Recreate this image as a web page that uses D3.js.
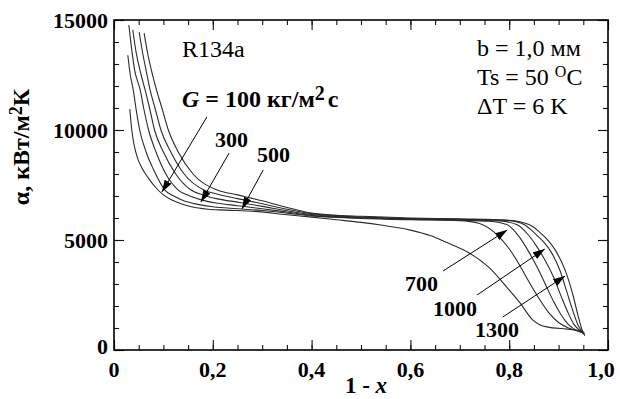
<!DOCTYPE html>
<html>
<head>
<meta charset="utf-8">
<script src="https://cdn.jsdelivr.net/npm/d3@7"></script>
<style>
  body { margin: 0; background: #fff; }
  svg { display: block; }
  text { font-family: "Liberation Serif", "Times New Roman", serif; fill: #000; }
</style>
</head>
<body>
<svg id="chart" width="620" height="399"></svg>
<script>
// Heat transfer coefficient α (кВт/м²К) vs. 1 - x for R134a, one series per mass flux G
const fluxes = [100, 300, 500, 700, 1000, 1300];

const xG100 = [0.032, 0.036, 0.040, 0.048, 0.056, 0.070, 0.083, 0.100, 0.117, 0.137, 0.157, 0.190, 0.225, 0.285, 0.350, 0.400, 0.450, 0.500, 0.540, 0.600, 0.640, 0.670, 0.720, 0.760, 0.795, 0.822, 0.848, 0.862, 0.876, 0.917, 0.948];
const aG100 = [10950, 10000, 9400, 8700, 8300, 7800, 7420, 7050, 6820, 6640, 6510, 6400, 6360, 6300, 6150, 6040, 5920, 5800, 5680, 5450, 5200, 4920, 4400, 3730, 2860, 2140, 1360, 1150, 1050, 950, 880];

const xG300 = [0.028, 0.033, 0.039, 0.045, 0.052, 0.065, 0.080, 0.103, 0.120, 0.140, 0.170, 0.200, 0.250, 0.300, 0.350, 0.400, 0.500, 0.600, 0.700, 0.740, 0.777, 0.800, 0.820, 0.840, 0.860, 0.880, 0.900, 0.920, 0.940, 0.952];
const aG300 = [13400, 12500, 11820, 10900, 10000, 9000, 8200, 7270, 7010, 6800, 6620, 6510, 6420, 6340, 6220, 6090, 5980, 5920, 5880, 5750, 5200, 4600, 3900, 3100, 2350, 1700, 1250, 1000, 850, 800];

const xG500 = [0.030, 0.035, 0.042, 0.053, 0.060, 0.070, 0.085, 0.105, 0.130, 0.150, 0.180, 0.210, 0.250, 0.300, 0.350, 0.400, 0.500, 0.600, 0.700, 0.760, 0.795, 0.820, 0.840, 0.858, 0.875, 0.890, 0.905, 0.920, 0.940, 0.952];
const aG500 = [14770, 13800, 12700, 11820, 11000, 10000, 9000, 8000, 7270, 7030, 6800, 6670, 6560, 6420, 6270, 6120, 6000, 5940, 5900, 5850, 5700, 5150, 4450, 3700, 2900, 2200, 1600, 1150, 850, 750];

const xG700 = [0.038, 0.045, 0.055, 0.063, 0.072, 0.082, 0.100, 0.125, 0.156, 0.180, 0.210, 0.250, 0.300, 0.350, 0.400, 0.500, 0.600, 0.700, 0.780, 0.815, 0.838, 0.856, 0.872, 0.890, 0.905, 0.918, 0.930, 0.945, 0.953];
const aG700 = [14550, 13500, 12500, 11820, 11000, 10000, 9000, 8000, 7270, 7050, 6870, 6720, 6530, 6330, 6160, 6020, 5960, 5920, 5870, 5700, 5250, 4700, 4100, 3300, 2450, 1750, 1200, 850, 700];

const xG1000 = [0.051, 0.058, 0.066, 0.073, 0.083, 0.095, 0.115, 0.142, 0.182, 0.210, 0.250, 0.300, 0.350, 0.400, 0.500, 0.600, 0.700, 0.800, 0.830, 0.852, 0.870, 0.885, 0.903, 0.918, 0.930, 0.940, 0.951];
const aG1000 = [14450, 13500, 12600, 11820, 11000, 10000, 9000, 8000, 7270, 7080, 6880, 6650, 6400, 6190, 6040, 5980, 5940, 5880, 5700, 5300, 4900, 4450, 3600, 2550, 1700, 1100, 750];

const xG1300 = [0.061, 0.068, 0.077, 0.086, 0.097, 0.110, 0.130, 0.160, 0.209, 0.250, 0.300, 0.350, 0.400, 0.450, 0.500, 0.600, 0.700, 0.800, 0.840, 0.862, 0.880, 0.893, 0.913, 0.929, 0.939, 0.947, 0.953];
const aG1300 = [14400, 13500, 12600, 11820, 11000, 10000, 9000, 8000, 7270, 7050, 6780, 6480, 6220, 6120, 6080, 6000, 5960, 5900, 5700, 5350, 4950, 4550, 3640, 2500, 1600, 950, 650];

const seriesX = [xG100, xG300, xG500, xG700, xG1000, xG1300];
const seriesA = [aG100, aG300, aG500, aG700, aG1000, aG1300];

// Axis ticks
const xTicks = [0, 0.2, 0.4, 0.6, 0.8, 1.0];
const xTickLabels = ["0", "0,2", "0,4", "0,6", "0,8", "1,0"];
const yTicks = [0, 5000, 10000, 15000];
const yTickLabels = ["0", "5000", "10000", "15000"];

// Flux annotations: label text, arrow tail and head in data units (1 - x, α)
const arrowLabels = ["100", "300", "500", "700", "1000", "1300"];
const arrowTail = [[0.188, 10590], [0.233, 8950], [0.302, 8180], [0.666, 3590], [0.735, 2500], [0.787, 1500]];
const arrowHead = [[0.097, 7180], [0.176, 6730], [0.259, 6410], [0.796, 5450], [0.872, 4590], [0.913, 3360]];

const svg = d3.select("#chart");
const plotL = 114, plotR = 608, plotT = 20, plotB = 350;

const x = d3.scaleLinear().domain([0, 1]).range([plotL, plotR]);
const y = d3.scaleLinear().domain([0, 15000]).range([plotB, plotT]);

const majorLen = 10, minorLen = 5;
const xMinor = d3.range(0, 1.0001, 0.05);
const yMinor = d3.range(0, 15001, 1000);

function styleAxis(g) {
  g.select(".domain").remove();
  g.selectAll("line").attr("stroke", "#111").attr("stroke-width", 1.1);
  g.selectAll("text").remove();
}

// inward ticks on all four sides
[
  [() => d3.axisBottom(x), `translate(0,${plotB})`, xTicks, xMinor],
  [() => d3.axisTop(x), `translate(0,${plotT})`, xTicks, xMinor],
  [() => d3.axisLeft(y), `translate(${plotL},0)`, yTicks, yMinor],
  [() => d3.axisRight(y), `translate(${plotR},0)`, yTicks, yMinor],
].forEach(([mk, tr, major, minor]) => {
  svg.append("g").attr("transform", tr).call(mk().tickValues(minor).tickSize(-minorLen)).call(styleAxis);
  svg.append("g").attr("transform", tr).call(mk().tickValues(major).tickSize(-majorLen)).call(styleAxis);
});

// frame
svg.append("rect")
  .attr("x", plotL).attr("y", plotT)
  .attr("width", plotR - plotL).attr("height", plotB - plotT)
  .attr("fill", "none").attr("stroke", "#000").attr("stroke-width", 1.6);

// tick labels
svg.append("g").selectAll("text").data(xTicks).join("text")
  .attr("x", (d, i) => x(d) + (i === xTicks.length - 1 ? -7 : 0))
  .attr("y", 377)
  .attr("text-anchor", "middle")
  .attr("font-size", 22).attr("font-weight", "bold")
  .text((d, i) => xTickLabels[i]);

svg.append("g").selectAll("text").data(yTicks).join("text")
  .attr("x", 108)
  .attr("y", d => y(d) + 8 - (d === 0 ? 4 : 0))
  .attr("text-anchor", "end")
  .attr("font-size", 22).attr("font-weight", "bold")
  .text((d, i) => yTickLabels[i]);

// axis titles
const xt = svg.append("text").attr("x", 366).attr("y", 393)
  .attr("text-anchor", "middle").attr("font-size", 23).attr("font-weight", "bold");
xt.append("tspan").text("1 - ");
xt.append("tspan").attr("font-style", "italic").text("x");

const yt = svg.append("text").attr("transform", "translate(29,147) rotate(-90)")
  .attr("text-anchor", "middle").attr("font-size", 24).attr("font-weight", "bold");
yt.append("tspan").text("α, кВт/м");
yt.append("tspan").attr("font-size", 18).attr("dy", -7).text("2");
yt.append("tspan").attr("dy", 7).text("К");

// curves
const line = d3.line().x(d => x(d[0])).y(d => y(d[1])).curve(d3.curveMonotoneX);
svg.append("g").selectAll("path").data(fluxes).join("path")
  .attr("d", (g, i) => line(seriesX[i].map((v, j) => [v, seriesA[i][j]])))
  .attr("fill", "none").attr("stroke", "#2b2b2b").attr("stroke-width", 1.1);

// arrows
svg.append("defs").append("marker")
  .attr("id", "head").attr("viewBox", "0 0 12 8").attr("refX", 12).attr("refY", 4)
  .attr("markerWidth", 12).attr("markerHeight", 8).attr("markerUnits", "userSpaceOnUse")
  .attr("orient", "auto")
  .append("path").attr("d", "M0,0 L12,4 L0,8 Z").attr("fill", "#000");

svg.append("g").selectAll("line").data(arrowLabels).join("line")
  .attr("x1", (d, i) => x(arrowTail[i][0])).attr("y1", (d, i) => y(arrowTail[i][1]))
  .attr("x2", (d, i) => x(arrowHead[i][0])).attr("y2", (d, i) => y(arrowHead[i][1]))
  .attr("stroke", "#000").attr("stroke-width", 1)
  .attr("marker-end", "url(#head)");

// annotation text
svg.append("text").attr("x", 182).attr("y", 57).attr("font-size", 24).text("R134a");

const gl = svg.append("text").attr("x", 182).attr("y", 107).attr("font-size", 24).attr("font-weight", "bold");
gl.append("tspan").attr("font-style", "italic").text("G");
gl.append("tspan").text(" = " + arrowLabels[0] + " кг/м");
gl.append("tspan").attr("font-size", 20).attr("dy", -7).text("2");
gl.append("tspan").attr("dx", 3).attr("dy", 7).text("с");

const labelPos = [null, [215, 147], [257, 162], [405, 291], [433, 316], [475, 337]];
arrowLabels.forEach((t, i) => {
  if (!labelPos[i]) return;
  svg.append("text").attr("x", labelPos[i][0]).attr("y", labelPos[i][1])
    .attr("font-size", 22).attr("font-weight", "bold").text(t);
});

svg.append("text").attr("x", 477).attr("y", 56).attr("font-size", 24).text("b = 1,0 мм");
const ts = svg.append("text").attr("x", 477).attr("y", 85).attr("font-size", 24);
ts.append("tspan").text("Ts = 50 ");
ts.append("tspan").attr("font-size", 16).attr("dy", -8).text("O");
ts.append("tspan").attr("dy", 8).text("C");
svg.append("text").attr("x", 477).attr("y", 114).attr("font-size", 24).text("ΔT = 6 K");
</script>
</body>
</html>
